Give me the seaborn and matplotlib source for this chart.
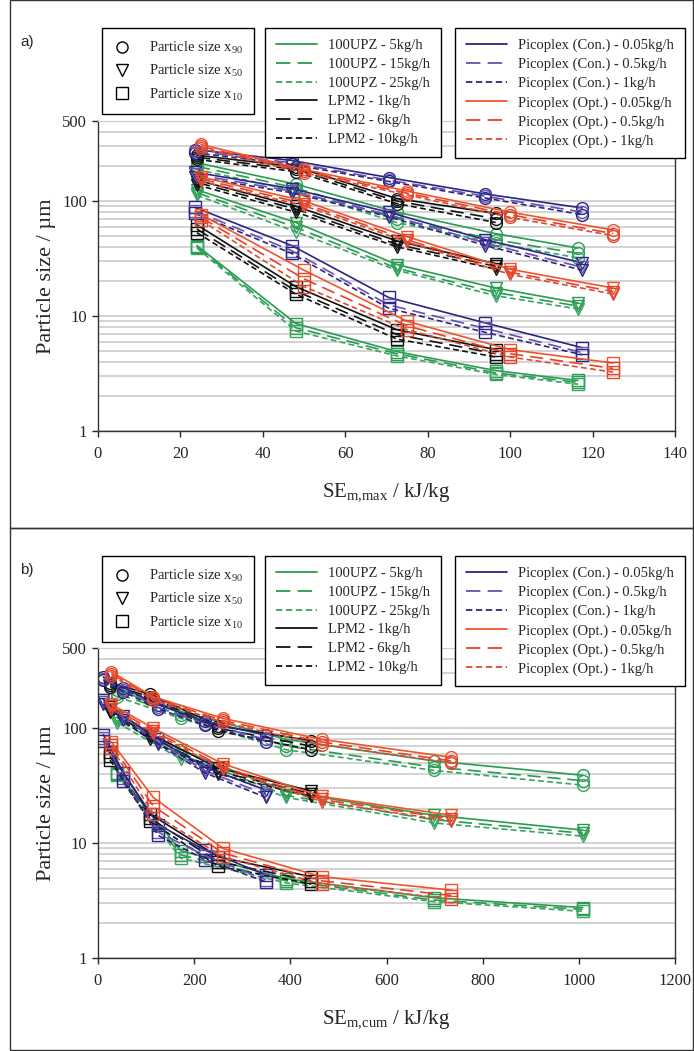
import numpy as np
import pandas as pd
import matplotlib
matplotlib.use("Agg")
import matplotlib.pyplot as plt
import seaborn as sns
from matplotlib.lines import Line2D
from matplotlib.patches import Rectangle
from matplotlib.ticker import FixedLocator, NullFormatter

# mills and feed rates
upz_rates = ["5kg/h", "15kg/h", "25kg/h"]
lpm_rates = ["1kg/h", "6kg/h", "10kg/h"]
pico_rates = ["0.05kg/h", "0.5kg/h", "1kg/h"]

# specific energy per pass (a) and cumulative (b), kJ/kg
upz_se_max = [24, 48, 72.5, 96.5, 116.5]
upz_se_cum = [40, 172, 392, 698, 1008]
lpm_se_max = [24, 48, 72.5, 96.5]
lpm_se_cum = [25, 108, 250, 443]
con_se_max = [23.5, 47, 70.5, 94, 117.5]
con_se_cum = [11, 53, 125, 222, 349]
opt_se_max = [25, 50, 75, 100, 125]
opt_se_cum = [28, 115, 260, 465, 735]

# particle sizes in um, one row per feed rate
upz_x90 = [[215, 140, 80, 52, 39], [200, 130, 70, 46, 35], [188, 122, 65, 43, 32]]
upz_x50 = [[125, 65, 28, 17.5, 13], [118, 59, 26, 16, 12.2], [112, 54, 25, 15, 11.5]]
upz_x10 = [[41, 8.6, 4.9, 3.35, 2.75], [40, 7.9, 4.7, 3.2, 2.65], [39, 7.4, 4.5, 3.1, 2.55]]

lpm_x90 = [[250, 198, 105, 78], [240, 188, 100, 70], [230, 180, 95, 65]]
lpm_x50 = [[152, 90, 45, 28.5], [145, 85, 42, 27], [138, 80, 40, 25.5]]
lpm_x10 = [[62, 18, 7.6, 5.1], [57, 16.5, 6.9, 4.7], [53, 15.5, 6.3, 4.4]]

con_x90 = [[280, 225, 160, 115, 87], [270, 215, 152, 110, 80], [262, 208, 148, 106, 76]]
con_x50 = [[178, 128, 80, 46, 29], [170, 122, 76, 43, 26.5], [163, 118, 73, 41, 25]]
con_x10 = [[88, 41, 14.5, 8.7, 5.3], [82, 37, 12.5, 7.8, 4.8], [78, 35, 11.7, 7.2, 4.6]]

opt_x90 = [[310, 188, 122, 80, 56], [298, 182, 117, 76, 52], [288, 176, 113, 72, 50]]
opt_x50 = [[162, 100, 49, 25.5, 17.5], [155, 95, 46, 24, 16.3], [148, 91, 44, 23, 15.5]]
opt_x10 = [[76, 25, 9, 5.1, 3.9], [72, 21, 8.2, 4.7, 3.5], [68, 18, 7.6, 4.4, 3.25]]

groups = [
    ("100UPZ", upz_rates, upz_se_max, upz_se_cum, {"x90": upz_x90, "x50": upz_x50, "x10": upz_x10}),
    ("LPM2", lpm_rates, lpm_se_max, lpm_se_cum, {"x90": lpm_x90, "x50": lpm_x50, "x10": lpm_x10}),
    ("Picoplex (Con.)", pico_rates, con_se_max, con_se_cum, {"x90": con_x90, "x50": con_x50, "x10": con_x10}),
    ("Picoplex (Opt.)", pico_rates, opt_se_max, opt_se_cum, {"x90": opt_x90, "x50": opt_x50, "x10": opt_x10}),
]

rows = []
for mill, rates, se_max, se_cum, sizes in groups:
    for size_name, values in sizes.items():
        for r, rate in enumerate(rates):
            for i, v in enumerate(values[r]):
                rows.append(dict(mill=mill, rate=r, label=f"{mill} - {rate}", size=size_name,
                                 se_max=se_max[i], se_cum=se_cum[i], d=v))
df = pd.DataFrame(rows)

line_colors = {
    "100UPZ": ["#2a9c50", "#2a9c50", "#35a560"],
    "LPM2": ["#111111", "#111111", "#111111"],
    "Picoplex (Con.)": ["#2b2680", "#6a4fb5", "#2b2680"],
    "Picoplex (Opt.)": ["#f0552a", "#e8402a", "#dd4a30"],
}
dash_styles = ["-", (0, (8, 4)), (0, (3.5, 2))]
size_markers = {"x90": "o", "x50": "v", "x10": "s"}

sns.set_style("ticks")
plt.rcParams["font.family"] = ["Liberation Serif", "DejaVu Serif"]
plt.rcParams["mathtext.fontset"] = "custom"
plt.rcParams["mathtext.rm"] = "Liberation Serif"
plt.rcParams["mathtext.it"] = "Liberation Serif:italic"

W, H = 694, 1051
fig = plt.figure(figsize=(W / 100, H / 100), dpi=100)
ax_a = fig.add_axes([98 / W, 1 - 431 / H, 577 / W, 310.4 / H])
ax_b = fig.add_axes([98 / W, 1 - 958 / H, 577 / W, 310 / H])

panels = [
    (ax_a, "se_max", 140, 20, r"SE$_{\mathrm{m{,}max}}$ / kJ/kg", 0),
    (ax_b, "se_cum", 1200, 200, r"SE$_{\mathrm{m{,}cum}}$ / kJ/kg", 528),
]

minor_vals = [m * 10 ** e for e in range(0, 3) for m in range(2, 10) if m * 10 ** e < 500]

for ax, xcol, xmax, xstep, xlabel, off in panels:
    for (mill, r, size), sub in df.groupby(["mill", "rate", "size"], sort=False):
        c = line_colors[mill][r]
        sns.lineplot(data=sub, x=xcol, y="d", ax=ax, color=c, linestyle=dash_styles[r],
                     linewidth=1.2, marker=size_markers[size], markersize=8.5,
                     markerfacecolor="none", markeredgecolor=c, markeredgewidth=1.0,
                     errorbar=None, sort=False, legend=False)
    ax.set_yscale("log")
    ax.set_ylim(1, 500)
    ax.set_xlim(0, xmax)
    ax.set_xticks(np.arange(0, xmax + 1, xstep))
    ax.set_yticks([1, 10, 100, 500])
    ax.set_yticklabels(["1", "10", "100", "500"])
    ax.yaxis.set_minor_locator(FixedLocator(minor_vals))
    ax.yaxis.set_minor_formatter(NullFormatter())
    ax.tick_params(axis="both", which="major", labelsize=12, length=4, width=1, direction="out", pad=4)
    ax.tick_params(axis="x", which="major", pad=7)
    ax.tick_params(axis="y", which="minor", length=0)
    ax.grid(True, which="both", axis="y", color="#cccccc", linewidth=1.2)
    ax.set_axisbelow(True)
    for side in ["left", "bottom", "right"]:
        ax.spines[side].set_color("#333333")
        ax.spines[side].set_linewidth(1.0)
    ax.spines["top"].set_color("#cccccc")
    ax.set_xlabel(xlabel, fontsize=15)
    ax.set_ylabel("Particle size / µm", fontsize=16)
    ax.xaxis.set_label_coords(0.5, -0.165)
    ax.yaxis.set_label_coords(-0.072, 0.5)

    # legends
    size_handles = [Line2D([], [], ls="none", marker=size_markers[s], mfc="none", mec="black",
                           mew=1.0, ms=8) for s in ["x90", "x50", "x10"]]
    size_labels = [r"Particle size x$_{\mathrm{90}}$", r"Particle size x$_{\mathrm{50}}$",
                   r"Particle size x$_{\mathrm{10}}$"]
    leg_kw = dict(loc="upper left", bbox_transform=fig.transFigure, fontsize=10.5,
                  frameon=True, fancybox=False, framealpha=1, edgecolor="black", borderaxespad=0)
    l1 = fig.legend(size_handles, size_labels, bbox_to_anchor=(102 / W, 1 - (28 + off) / H),
                    handlelength=1.2, handletextpad=1.2, labelspacing=0.5, borderpad=0.8,
                    **leg_kw)
    l1.get_frame().set_linewidth(1.0)
    for g, anchor_x in [(groups[:2], 265), (groups[2:], 455)]:
        hs, ls = [], []
        for mill, rates, *_ in g:
            for r, rate in enumerate(rates):
                hs.append(Line2D([], [], color=line_colors[mill][r], ls=dash_styles[r], lw=1.3))
                ls.append(f"{mill} - {rate}")
        lg = fig.legend(hs, ls, bbox_to_anchor=(anchor_x / W, 1 - (28 + off) / H),
                        handlelength=2.8, handletextpad=0.75, labelspacing=0.38, borderpad=0.75,
                        **leg_kw)
        lg.get_frame().set_linewidth(1.0)

# panel frames and labels
for top, bottom in [(0, 528), (528, 1050)]:
    fig.add_artist(Rectangle((10 / W, 1 - bottom / H), 683 / W, (bottom - top) / H,
                             transform=fig.transFigure, fill=False, edgecolor="#333333", lw=1.0))
fig.text(20 / W, 1 - 42 / H, "a)", fontsize=11, family="Liberation Sans", va="center")
fig.text(20 / W, 1 - 570 / H, "b)", fontsize=11, family="Liberation Sans", va="center")

fig.savefig("out.png", dpi=100)
